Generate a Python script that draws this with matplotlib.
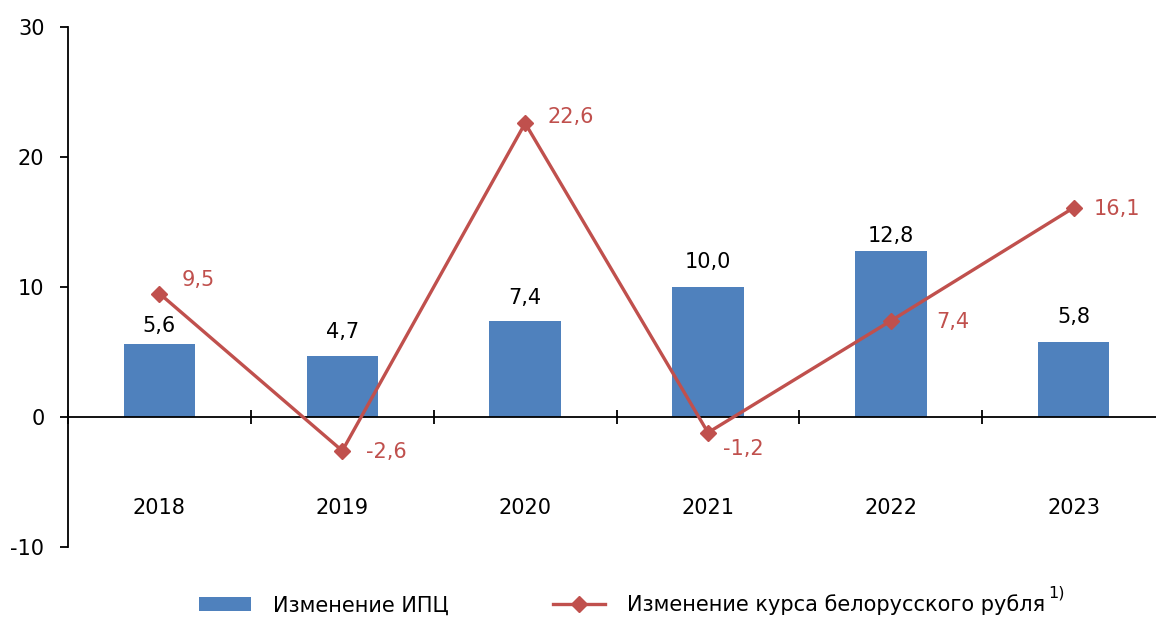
import matplotlib
matplotlib.use("Agg")
import matplotlib.pyplot as plt
from matplotlib.lines import Line2D
from matplotlib.patches import Patch

years = ["2018", "2019", "2020", "2021", "2022", "2023"]
cpi = [5.6, 4.7, 7.4, 10.0, 12.8, 5.8]
rate = [9.5, -2.6, 22.6, -1.2, 7.4, 16.1]
yticks = [-10, 0, 10, 20, 30]
legend_labels = ["Изменение ИПЦ", "Изменение курса белорусского рубля"]

BLUE = "#4F81BD"
RED = "#C0504D"
FS = 15
plt.rcParams['font.family'] = ['DejaVu Sans']

fig = plt.figure(figsize=(11.56, 6.19), dpi=100)
ax = fig.add_axes([68/1156, 1-547/619, 1-68/1156, (547-27)/619])

x = list(range(len(years)))
ax.bar(x, cpi, width=0.39, color=BLUE, zorder=2)
ax.plot(x, rate, color=RED, lw=2.4, marker='D', ms=8, zorder=3)

fmt = lambda v: f"{v:.1f}".replace(".", ",")
bar_dy = [18, 24, 23, 25, 15, 25]
for xi, v, dy in zip(x, cpi, bar_dy):
    ax.annotate(fmt(v), (xi, v), xytext=(0, dy), textcoords='offset pixels',
                ha='center', va='center', fontsize=FS, color='black')

offsets = [(39, 14), (44, -1), (46, 6), (35, -16), (62, -1), (43, -1)]
for xi, v, (dx, dy) in zip(x, rate, offsets):
    ax.annotate(fmt(v), (xi, v), xytext=(dx, dy), textcoords='offset pixels',
                ha='center', va='center', fontsize=FS, color=RED)

ax.set_yticks(yticks)
ax.set_yticklabels([str(t) for t in yticks])
ax.tick_params(axis='y', direction='out', length=6, width=1.3, pad=11, labelsize=FS)

ax.set_xticks(x)
ax.set_xticklabels(years)
ax.set_xticks([i - 0.5 for i in range(7)], minor=True)
ax.tick_params(axis='x', which='major', length=0, pad=58, labelsize=FS)
ax.tick_params(axis='x', which='minor', direction='inout', length=10, width=1.3)
ax.set_xlim(-0.5, 5.45)
ax.set_ylim(-10, 30)

for s in ['top', 'right']:
    ax.spines[s].set_visible(False)
ax.spines['bottom'].set_position(('data', 0))
ax.spines['bottom'].set_linewidth(1.3)
ax.spines['left'].set_linewidth(1.3)
ax.spines['bottom'].set_zorder(2.5)

handles = [Patch(facecolor=BLUE, edgecolor='none'),
           Line2D([0], [0], color=RED, lw=2.4, marker='D', ms=8)]
leg = fig.legend(handles, legend_labels, loc='center', bbox_to_anchor=(622/1156, 1-605/619),
                 ncol=2, frameon=False, fontsize=FS, columnspacing=5.0, handlelength=2.5,
                 handletextpad=1.05, handleheight=0.6)
fig.text(1048/1156, 1-593/619, "1)", fontsize=11.5, ha='left', va='center')

fig.savefig("out.png", dpi=100)
